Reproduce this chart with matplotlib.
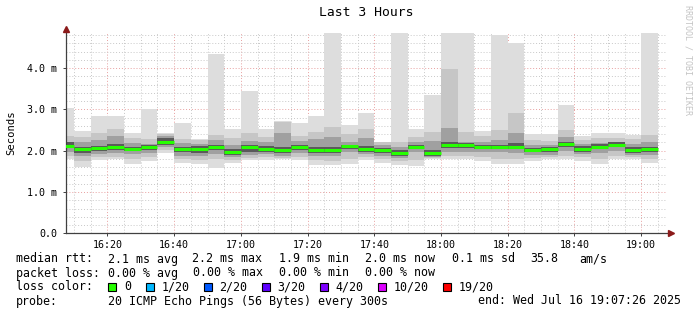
import numpy as np
import matplotlib
matplotlib.use("Agg")
from matplotlib import pyplot as plt
from matplotlib.patches import Rectangle
from matplotlib.ticker import FuncFormatter, MultipleLocator

plt.rcParams['font.family'] = 'DejaVu Sans Mono'

# time window (minutes after midnight) and 5 minute smoke intervals
t_start = 16 * 60 + 7 + 26 / 60
t_end = 19 * 60 + 7 + 26 / 60
bar_start = np.arange(16 * 60 + 5, 19 * 60 + 5, 5)

# round trip times in ms, per interval
rtt_max = [3.03, 2.48, 2.84, 2.84, 2.42, 3.01, 2.42, 2.68, 2.28, 4.34, 2.53, 3.45,
           2.53, 2.73, 2.68, 2.84, 4.90, 2.62, 2.92, 2.22, 4.90, 2.53, 3.35, 4.90,
           4.90, 2.48, 4.79, 4.61, 2.40, 2.41, 3.11, 2.36, 2.42, 2.42, 2.39, 4.90]
rtt_p90 = [2.36, 2.34, 2.42, 2.52, 2.30, 2.28, 2.40, 2.28, 2.26, 2.38, 2.30, 2.42,
           2.34, 2.70, 2.36, 2.46, 2.58, 2.40, 2.52, 2.20, 2.22, 2.34, 2.46, 3.97,
           2.46, 2.36, 2.50, 2.92, 2.26, 2.24, 2.50, 2.26, 2.30, 2.30, 2.28, 2.38]
rtt_p75 = [2.22, 2.20, 2.26, 2.36, 2.18, 2.16, 2.36, 2.18, 2.16, 2.26, 2.14, 2.24,
           2.20, 2.44, 2.24, 2.28, 2.34, 2.22, 2.30, 2.14, 2.10, 2.20, 2.24, 2.56,
           2.22, 2.22, 2.26, 2.42, 2.14, 2.14, 2.32, 2.16, 2.18, 2.22, 2.16, 2.22]
rtt_p60 = [2.20, 2.09, 2.11, 2.16, 2.10, 2.15, 2.31, 2.10, 2.11, 2.14, 2.05, 2.15,
           2.11, 2.09, 2.15, 2.09, 2.10, 2.15, 2.12, 2.07, 2.02, 2.15, 2.02, 2.22,
           2.19, 2.15, 2.15, 2.18, 2.07, 2.10, 2.22, 2.11, 2.16, 2.20, 2.08, 2.10]
rtt_median = [2.12, 2.03, 2.06, 2.08, 2.05, 2.09, 2.21, 2.04, 2.03, 2.08, 1.97, 2.09,
              2.05, 2.01, 2.10, 2.02, 2.02, 2.11, 2.05, 2.02, 1.95, 2.10, 1.95, 2.14,
              2.13, 2.10, 2.10, 2.10, 2.02, 2.04, 2.16, 2.05, 2.10, 2.15, 2.02, 2.04]
rtt_p40 = [2.06, 1.95, 1.99, 2.01, 1.99, 2.02, 2.15, 1.96, 1.95, 2.01, 1.90, 1.98,
           1.98, 1.94, 2.02, 1.95, 1.94, 2.05, 1.98, 1.94, 1.88, 2.04, 1.88, 2.06,
           2.06, 2.04, 2.04, 2.03, 1.96, 1.97, 2.09, 1.98, 2.03, 2.09, 1.95, 1.97]
rtt_p25 = [1.98, 1.88, 1.93, 1.94, 1.92, 1.95, 2.10, 1.88, 1.88, 1.93, 1.84, 1.90,
           1.92, 1.88, 1.95, 1.88, 1.86, 1.98, 1.91, 1.87, 1.82, 1.97, 1.84, 1.98,
           1.98, 1.96, 1.96, 1.95, 1.90, 1.90, 2.00, 1.92, 1.95, 2.00, 1.90, 1.90]
rtt_p10 = [1.88, 1.76, 1.84, 1.85, 1.80, 1.85, 2.02, 1.80, 1.78, 1.80, 1.78, 1.83,
           1.84, 1.83, 1.84, 1.78, 1.76, 1.80, 1.84, 1.80, 1.76, 1.78, 1.82, 1.88,
           1.88, 1.84, 1.80, 1.80, 1.82, 1.84, 1.86, 1.84, 1.80, 1.86, 1.84, 1.80]
rtt_min = [1.79, 1.61, 1.77, 1.79, 1.69, 1.76, 1.95, 1.71, 1.67, 1.59, 1.71, 1.77,
           1.77, 1.79, 1.77, 1.65, 1.65, 1.69, 1.77, 1.71, 1.65, 1.63, 1.79, 1.81,
           1.81, 1.76, 1.69, 1.69, 1.76, 1.79, 1.79, 1.76, 1.69, 1.79, 1.79, 1.71]

# legend stats
rtt_stats = ["2.1 ms avg", "2.2 ms max", "1.9 ms min", "2.0 ms now", "0.1 ms sd"]
am_per_s = "35.8"
loss_stats = ["0.00 % avg", "0.00 % max", "0.00 % min", "0.00 % now"]
loss_labels = ["0", "1/20", "2/20", "3/20", "4/20", "10/20", "19/20"]
loss_colors = ["#26ff00", "#00b8ff", "#0059ff", "#5e00ff", "#7e00ff", "#dd00ff", "#ff0000"]

W, H = 697, 315
fig = plt.figure(figsize=(W / 100, H / 100), dpi=100, facecolor='white')


def fx(px):
    return px / W


def fy(py):
    return 1 - py / H


# plot area: x 65.5..666, y 233.3 (0 ms) .. 32.6 (4.86 ms)
ax = fig.add_axes([fx(65.5), fy(233.3), fx(666) - fx(65.5), (233.3 - 32.6) / H])
ax.set_xlim(t_start, t_end)
ax.set_ylim(0, 4.86)

# smoke, outermost pair lightest
bands = [(rtt_min, rtt_max, '#dddddd'),
         (rtt_p10, rtt_p90, '#c6c6c6'),
         (rtt_p25, rtt_p75, '#a0a0a0'),
         (rtt_p40, rtt_p60, '#5a5a5a')]
for lo, hi, col in bands:
    lo = np.array(lo)
    hi = np.array(hi)
    ax.bar(bar_start, hi - lo, bottom=lo, width=5, align='edge', color=col,
           linewidth=0, zorder=2)

ax.hlines(rtt_median, bar_start, bar_start + 5, color=loss_colors[0], lw=2.2, zorder=3)

# grid
ax.xaxis.set_major_locator(MultipleLocator(20))
ax.xaxis.set_minor_locator(MultipleLocator(5))
ax.yaxis.set_major_locator(MultipleLocator(1))
ax.yaxis.set_minor_locator(MultipleLocator(0.2))
ax.grid(which='minor', color='#c8c8c8', ls=(0, (1, 2)), lw=0.7)
ax.grid(which='major', color='#e8a0a0', ls=(0, (1, 2)), lw=0.7)
ax.set_axisbelow(True)

ax.xaxis.set_major_formatter(FuncFormatter(lambda v, p: "%02d:%02d" % (int(v) // 60, int(v) % 60)))
ax.yaxis.set_major_formatter(FuncFormatter(lambda v, p: "0.0" if v == 0 else "%.1f m" % v))
ax.tick_params(which='major', length=2, width=0.7, color='#404040', labelsize=7.2, pad=3)
ax.tick_params(which='minor', length=0)
ax.tick_params(axis='y', pad=4)

for s in ax.spines.values():
    s.set_visible(False)
ax.plot([0, 1.008], [0, 0], transform=ax.transAxes, color='#404040', lw=0.9, clip_on=False)
ax.plot([0, 0], [0, 1.02], transform=ax.transAxes, color='#404040', lw=0.9, clip_on=False)
ax.plot(1.008, 0, marker='>', ms=4, color='#8b1a1a', transform=ax.transAxes, clip_on=False)
ax.plot(0, 1.02, marker='^', ms=4, color='#8b1a1a', transform=ax.transAxes, clip_on=False)

# titles
fig.text(fx(366), fy(13), "Last 3 Hours", ha='center', va='center', fontsize=9.4)
fig.text(fx(11), fy(133), "Seconds", ha='center', va='center', rotation=90, fontsize=7.6)
fig.text(fx(688), fy(60), "RRDTOOL / TOBI OETIKER", ha='center', va='center',
         rotation=270, fontsize=6, color='#c4c4c4')

# legend block
fs = 8.4
row1 = [("median rtt:", 16)] + list(zip(rtt_stats, [108, 192, 279, 365, 452])) \
    + [(am_per_s, 530), ("am/s", 579)]
row2 = [("packet loss:", 16)] + list(zip(loss_stats, [108, 193, 279, 365]))
for txt, x in row1:
    fig.text(fx(x), fy(259), txt, ha='left', va='center', fontsize=fs)
for txt, x in row2:
    fig.text(fx(x), fy(273), txt, ha='left', va='center', fontsize=fs)

fig.text(fx(16), fy(287), "loss color:", ha='left', va='center', fontsize=fs)
sq_x = [108.4, 145.8, 204, 262, 320, 378, 442.7]
for lab, col, x in zip(loss_labels, loss_colors, sq_x):
    fig.add_artist(Rectangle((fx(x), fy(291)), fx(8), 8 / H, transform=fig.transFigure,
                             facecolor=col, edgecolor='black', lw=0.8))
    fig.text(fx(x + 15.5), fy(287), lab, ha='left', va='center', fontsize=fs)

fig.text(fx(16), fy(301), "probe:", ha='left', va='center', fontsize=fs)
fig.text(fx(108), fy(301), "20 ICMP Echo Pings (56 Bytes) every 300s", ha='left',
         va='center', fontsize=fs)
fig.text(fx(681), fy(301), "end: Wed Jul 16 19:07:26 2025", ha='right', va='center',
         fontsize=fs)

fig.savefig("out.png", dpi=100, facecolor='white')
